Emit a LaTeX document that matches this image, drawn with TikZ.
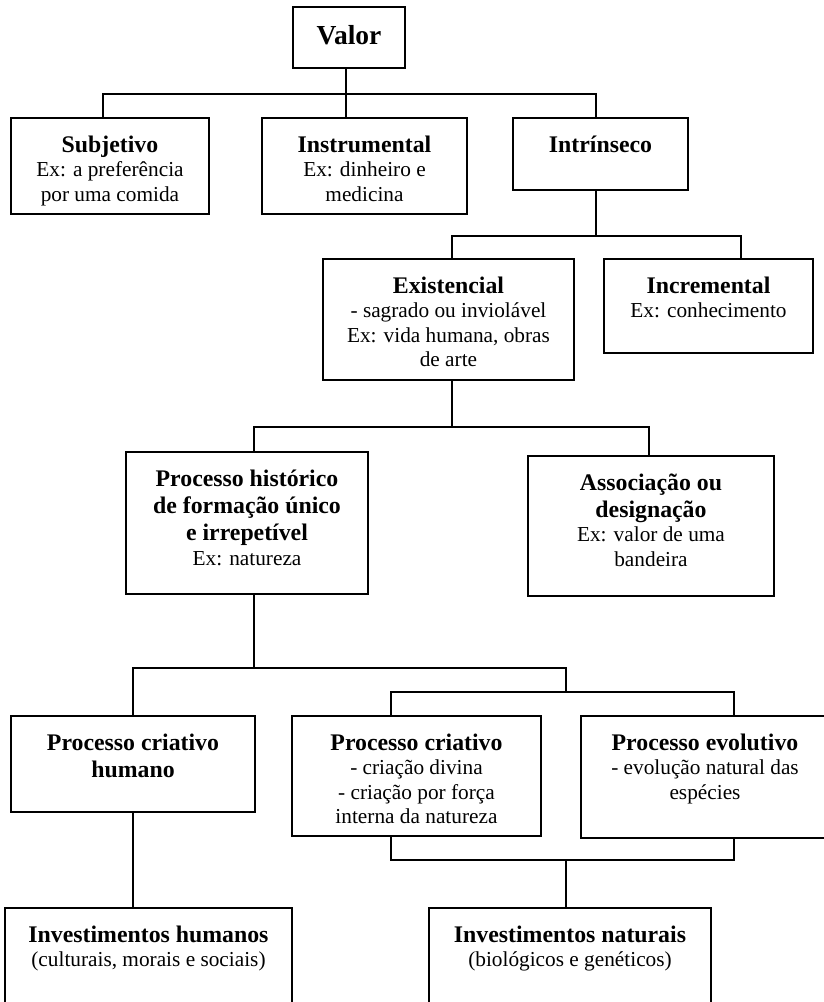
\documentclass[tikz,border=0pt]{standalone}
\usepackage{fontspec}
\setmainfont{Liberation Serif}
\newcommand\rfont{\fontsize{21.3}{24.4}\selectfont}
\newcommand\bfont{\fontsize{23.8}{27.2}\selectfont\bfseries}
\newcommand\mybox[5]{\node[box, minimum width={#4-#2}, minimum height={#5-#3}] (#1) at (#2,#3) {};}
\newcommand\boxtext[2]{\node[txt] (#1-t) at ([yshift=-17pt]#1.north) {\rule{0pt}{17pt}#2};}
\begin{document}
\begin{tikzpicture}[x=1pt,y=-1pt,
  box/.style={draw, line width=1.9pt, rectangle, inner sep=0pt, outer sep=0pt, anchor=north west},
  txt/.style={align=center, inner sep=0pt, anchor=north, font=\rfont},
  conn/.style={line width=1.6pt}]
\useasboundingbox (0,0) rectangle (824,1002);
\clip (0,0) rectangle (824,1002);
\fill[white] (0,0) rectangle (824,1002);

% boxes
\mybox{valor}{293}{7}{405}{68}
\mybox{sub}{11}{118}{209}{214}
\mybox{inst}{262}{118}{467}{214}
\mybox{intr}{513}{118}{688}{190}
\mybox{exist}{323}{259}{574}{380}
\mybox{incr}{604}{259}{813}{353}
\mybox{hist}{126}{452}{368}{594}
\mybox{assoc}{528}{456}{774}{596}
\mybox{pch}{11}{716}{255}{812}
\mybox{pc}{292}{716}{541}{836}
\mybox{pe}{581}{716}{829}{838}
\mybox{ih}{5}{908}{292}{1030}
\mybox{in}{429}{908}{711}{1030}

% texts
\node[anchor=base, inner sep=0pt, font=\fontsize{27.5}{31}\selectfont\bfseries] (valor-t) at (349,44) {Valor};
\boxtext{sub}{{\bfont Subjetivo}\\Ex: a preferência\\por uma comida}
\boxtext{inst}{{\bfont Instrumental}\\Ex: dinheiro e\\medicina}
\boxtext{intr}{{\bfont Intrínseco}}
\boxtext{exist}{{\bfont Existencial}\\- sagrado ou inviolável\\Ex: vida humana, obras\\de arte}
\boxtext{incr}{{\bfont Incremental}\\Ex: conhecimento}
\boxtext{hist}{{\bfont Processo histórico}\\[2.8pt]{\bfont de formação único}\\[2.8pt]{\bfont e irrepetível}\\Ex: natureza}
\boxtext{assoc}{{\bfont Associação ou}\\[2.8pt]{\bfont designação}\\Ex: valor de uma\\bandeira}
\boxtext{pch}{{\bfont Processo criativo}\\[2.8pt]{\bfont humano}}
\boxtext{pc}{{\bfont Processo criativo}\\- criação divina\\- criação por força\\interna da natureza}
\boxtext{pe}{{\bfont Processo evolutivo}\\- evolução natural das\\espécies}
\boxtext{ih}{{\bfont Investimentos humanos}\\(culturais, morais e sociais)}
\boxtext{in}{{\bfont Investimentos naturais}\\(biológicos e genéticos)}

% connector junctions
\coordinate (b1) at (346,94);  \coordinate (b1l) at (103,94);  \coordinate (b1r) at (596,94);
\coordinate (b2) at (596,236); \coordinate (b2l) at (452,236); \coordinate (b2r) at (741,236);
\coordinate (b3) at (452,427); \coordinate (b3l) at (254,427); \coordinate (b3r) at (649,427);
\coordinate (b4) at (254,668); \coordinate (b4l) at (133,668); \coordinate (b4r) at (566,668);
\coordinate (b5) at (566,692); \coordinate (b5l) at (391,692); \coordinate (b5r) at (734,692);
\coordinate (b6) at (566,860); \coordinate (b6l) at (391,860); \coordinate (b6r) at (734,860);

% connectors
\draw[conn] (valor.south -| b1) -- (b1);
\draw[conn] (sub.north -| b1l) -- (b1l) -- (b1r) -- (intr.north -| b1r);
\draw[conn] (b1) -- (inst.north -| b1);

\draw[conn] (intr.south -| b2) -- (b2);
\draw[conn] (exist.north -| b2l) -- (b2l) -- (b2r) -- (incr.north -| b2r);

\draw[conn] (exist.south -| b3) -- (b3);
\draw[conn] (hist.north -| b3l) -- (b3l) -- (b3r) -- (assoc.north -| b3r);

\draw[conn] (hist.south -| b4) -- (b4);
\draw[conn] (pch.north -| b4l) -- (b4l) -- (b4r) -- (b5);
\draw[conn] (pc.north -| b5l) -- (b5l) -- (b5r) -- (pe.north -| b5r);

\draw[conn] (pc.south -| b6l) -- (b6l) -- (b6r) -- (pe.south -| b6r);
\draw[conn] (b6) -- (in.north -| b6);
\draw[conn] (pch.south -| b4l) -- (ih.north -| b4l);
\end{tikzpicture}
\end{document}
